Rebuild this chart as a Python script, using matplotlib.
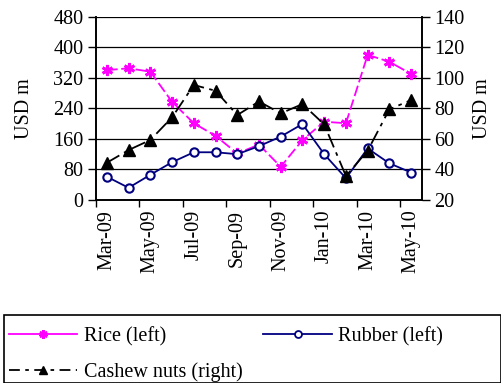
import matplotlib.pyplot as plt
from matplotlib.lines import Line2D
from matplotlib.patches import Rectangle

plt.rcParams['font.family'] = ['Liberation Serif', 'DejaVu Serif']
plt.rcParams['font.size'] = 14.5

months = ["Mar-09", "Apr-09", "May-09", "Jun-09", "Jul-09", "Aug-09", "Sep-09", "Oct-09",
          "Nov-09", "Dec-09", "Jan-10", "Feb-10", "Mar-10", "Apr-10", "May-10"]
rice = [340, 345, 336, 257, 201, 168, 122, 145, 87, 157, 205, 201, 380, 362, 330]
rubber = [61, 32, 66, 99, 125, 125, 120, 141, 166, 199, 120, 57, 135, 96, 72]
cashew = [44.4, 52.7, 59.3, 74.1, 95.3, 91.5, 75.6, 84.5, 76.7, 82.8, 69.5, 35.7, 52.3, 79.4, 85.4]

left_ticks = [0, 80, 160, 240, 320, 400, 480]
right_ticks = [20, 40, 60, 80, 100, 120, 140]

W, H = 502, 383
fig = plt.figure(figsize=(W / 100, H / 100), dpi=100)
ax = fig.add_axes([96 / W, 1 - 200 / H, (422 - 96) / W, (200 - 16.7) / H])
ax2 = ax.twinx()

x = list(range(len(months)))

ax.plot(x, rice, color="#ff00ff", lw=1.3, dashes=(6, 2),
        marker=(6, 2, 0), ms=8, mew=2, zorder=3)
ax.plot(x, rubber, color="#000080", lw=1.3, marker="o", ms=6,
        mfc="white", mec="#000080", mew=1.5, zorder=3)
ax2.plot(x, cashew, color="black", lw=1.3, dashes=(8, 3, 2, 3),
         marker="^", ms=8, mfc="black", zorder=3)

ax.set_ylim(0, 480)
ax.set_yticks(left_ticks)
ax2.set_ylim(20, 140)
ax2.set_yticks(right_ticks)
ax.set_xlim(-0.5, len(months) - 0.5)

ax.yaxis.grid(True, color="black", lw=0.9)
ax.set_axisbelow(True)

# category labels every two months, tick marks on category boundaries
ax.set_xticks(x[::2])
ax.set_xticklabels(months[::2], rotation=90)
ax.tick_params(axis="x", which="major", length=0, pad=7)
ax.set_xticks([b - 0.5 for b in range(0, len(months), 2)], minor=True)
ax.tick_params(axis="x", which="minor", length=5, width=1, direction="out")

ax.tick_params(axis="y", length=6, width=1, direction="out", pad=3)
ax2.tick_params(axis="y", length=6, width=1, direction="out", pad=3)

for a in (ax, ax2):
    a.spines["top"].set_visible(False)
    for s in ("left", "right", "bottom"):
        a.spines[s].set_linewidth(1.2)

ax.set_ylabel("USD m", labelpad=14)
ax2.set_ylabel("USD m", labelpad=6)

# legend box below the chart
fig.patches.append(Rectangle((4 / W, 0), (W - 5) / W, 1 - 315 / H,
                             transform=fig.transFigure, fill=False,
                             edgecolor="black", lw=1.2))
handles = [
    Line2D([], [], color="#ff00ff", lw=1.3, marker=(6, 2, 0), ms=6, mew=2),
    Line2D([], [], color="black", lw=1.3, dashes=(6, 3, 2, 3), marker="^", ms=6),
    Line2D([], [], color="#000080", lw=1.3, marker="o", ms=5, mfc="white", mew=1.3),
]
labels = ["Rice (left)", "Cashew nuts (right)", "Rubber (left)"]
fig.legend(handles, labels, ncol=2, loc="upper left",
           bbox_to_anchor=(9 / W, 1 - 327 / H), frameon=False,
           handlelength=3.4, handletextpad=0.3, columnspacing=1.05,
           labelspacing=0.8, borderpad=0, borderaxespad=0)

fig.savefig("out.png", dpi=100)
